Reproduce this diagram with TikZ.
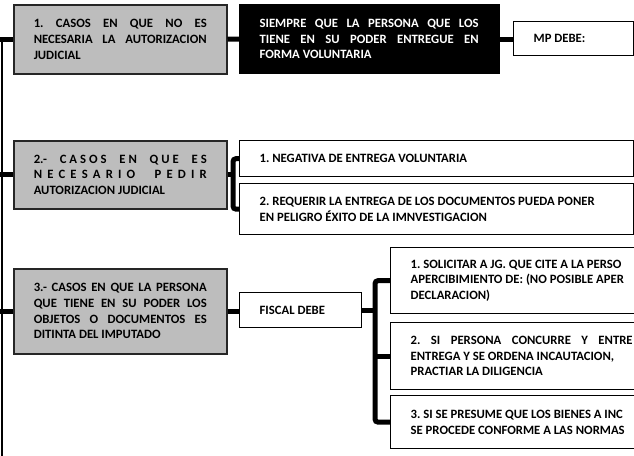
\documentclass[tikz,border=0pt]{standalone}
\usepackage{fontspec}
\setmainfont{Carlito}
\frenchspacing
\definecolor{boxgray}{RGB}{189,189,189}
\newcommand\ls{\hspace{0pt plus 1fil}}
\newcommand\ws{\hspace{4pt plus 3fil}}
\newcommand\jl[2]{\makebox[#1][s]{\spaceskip=0.23em plus 1fil\xspaceskip=0.23em plus 1fil\relax #2}}
\begin{document}
\begin{tikzpicture}[x=1pt,y=-1pt,
  box/.style={draw=black, line width=1.3pt, rectangle, inner xsep=20pt, inner ysep=0pt,
    align=flush left, anchor=north west, font=\bfseries\fontsize{12.7}{15.7}\selectfont},
  graybox/.style={box, fill=boxgray, draw=black!85, line width=1.5pt},
  blackbox/.style={box, fill=black, text=white},
  conn/.style={line width=5pt},
  spine/.style={line width=2.5pt},
  bracket/.style={line width=5pt, rounded corners=3pt}
]
\useasboundingbox (0,0) rectangle (634,455);
\clip (0,0) rectangle (634,455);

% row 1
\node[graybox, minimum width=213pt, minimum height=69pt, text width=173pt] (g1) at (13,4)
  {\jl{173pt}{1. CASOS EN QUE NO ES}\\
   \jl{173pt}{NECESARIA LA AUTORIZACION}\\
   JUDICIAL};
\node[blackbox, minimum width=260pt, minimum height=69pt, text width=220pt] (b1) at (239,4)
  {\jl{219pt}{SIEMPRE QUE LA PERSONA QUE LOS}\\
   \jl{219pt}{TIENE EN SU PODER ENTREGUE EN}\\
   FORMA VOLUNTARIA};
\node[box, minimum width=120pt, minimum height=34pt, text width=80pt, inner xsep=17pt] (m1) at (513,21)
  {MP DEBE:};

% row 2
\node[graybox, minimum width=213pt, minimum height=68pt, text width=173pt] (g2) at (13,140)
  {\makebox[173pt][s]{2.-\ws C\ls A\ls S\ls O\ls S\ws E\ls N\ws Q\ls U\ls E\ws E\ls S}\\
   \makebox[173pt][s]{N\ls E\ls C\ls E\ls S\ls A\ls R\ls I\ls O\ws P\ls E\ls D\ls I\ls R}\\
   AUTORIZACION JUDICIAL};
\node[box, minimum width=394pt, minimum height=36pt, text width=354pt] (r21) at (239,140)
  {1. NEGATIVA DE ENTREGA VOLUNTARIA};
\node[box, minimum width=394pt, minimum height=51pt, text width=354pt] (r22) at (239,183)
  {2. REQUERIR LA ENTREGA DE LOS DOCUMENTOS PUEDA PONER\\
   EN PELIGRO ÉXITO DE LA IMNVESTIGACION};

% row 3
\node[graybox, minimum width=213pt, minimum height=85pt, text width=173pt] (g3) at (13,268)
  {\jl{173pt}{3.- CASOS EN QUE LA PERSONA}\\
   \jl{173pt}{QUE TIENE EN SU PODER LOS}\\
   \jl{173pt}{OBJETOS O DOCUMENTOS ES}\\
   DITINTA DEL IMPUTADO};
\node[box, minimum width=122pt, minimum height=35pt, text width=82pt] (f3) at (239,292)
  {FISCAL DEBE};
\node[box, minimum width=270pt, minimum height=66pt, text width=230pt] (r31) at (390,247)
  {1. SOLICITAR A JG. QUE CITE A LA PERSO\\
   APERCIBIMIENTO DE: (NO POSIBLE APER\\
   DECLARACION)};
\node[box, minimum width=270pt, minimum height=67pt, text width=230pt] (r32) at (390,322)
  {\jl{222pt}{2. SI PERSONA CONCURRE Y ENTRE}\\
   ENTREGA Y SE ORDENA INCAUTACION,\\
   PRACTIAR LA DILIGENCIA};
\node[box, minimum width=270pt, minimum height=53pt, text width=230pt] (r33) at (390,395)
  {3. SI SE PRESUME QUE LOS BIENES A INC\\
   SE PROCEDE CONFORME A LAS NORMAS};

% connectors
\coordinate (edge) at (0,0);
\coordinate (sp) at (2,38);
\coordinate (spb) at (2,460);
\coordinate (k2) at (233,0);
\coordinate (k3) at (375,0);
\draw[spine] (sp) -- (spb);
\draw[conn] (g1.west -| edge) -- (g1.west);
\draw[conn] (g2.west -| edge) -- (g2.west);
\draw[conn] (g3.west -| edge) -- (g3.west);
\draw[conn] (g1.east) -- (b1.west);
\draw[conn] (b1.east) -- (b1.east -| m1.west);
\draw[conn] (g2.east) -- (g2.east -| k2);
\draw[bracket] (r21.west) -- (r21.west -| k2) -- (r22.west -| k2) -- (r22.west);
\draw[conn] (g3.east) -- (g3.east -| f3.west);
\draw[conn] (f3.east) -- (f3.east -| k3);
\draw[bracket] (r31.west) -- (r31.west -| k3) -- (r33.west -| k3) -- (r33.west);
\draw[conn] (r32.west -| k3) -- (r32.west);
\end{tikzpicture}
\end{document}
